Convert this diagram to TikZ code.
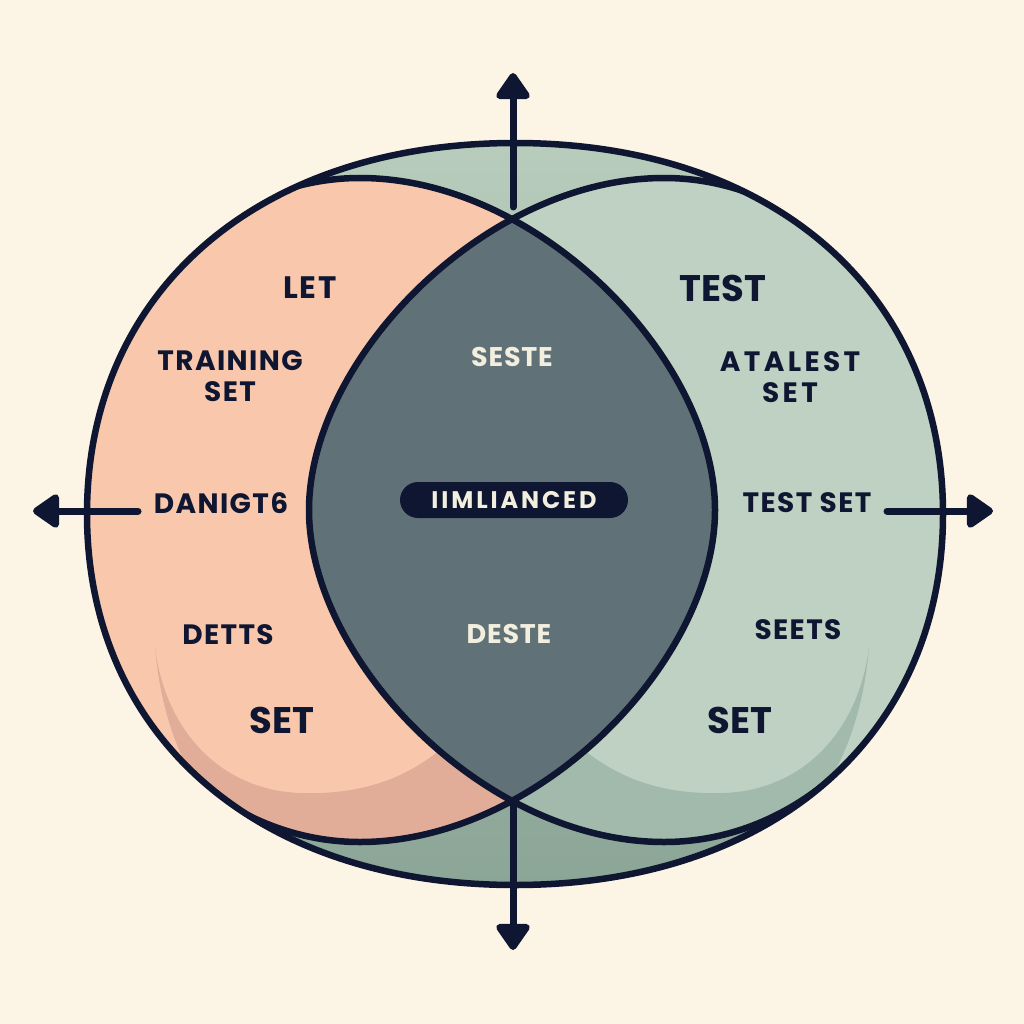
\documentclass[tikz,border=0pt]{standalone}
\usepackage{fontspec}
\setmainfont{Poppins}
\usetikzlibrary{arrows.meta}
\definecolor{paper}{HTML}{FCF4E4}
\definecolor{ink}{HTML}{0E1632}
\definecolor{peach}{HTML}{F9C8AC}
\definecolor{peachshade}{HTML}{E2AD98}
\definecolor{sage}{HTML}{BED1C2}
\definecolor{sageshade}{HTML}{A2BAAB}
\definecolor{ringtop}{HTML}{B8CCBC}
\definecolor{ringbot}{HTML}{8BA597}
\definecolor{slate}{HTML}{607278}
\definecolor{cream}{HTML}{F3EFDF}
% the three outlines, in pixel units
\newcommand\outerset{(87,514) .. controls (87,291.4) and (258.2,143) .. (515,143) .. controls (771.8,143) and (943,291.4) .. (943,514) .. controls (943,736.6) and (771.8,885) .. (515,885) .. controls (258.2,885) and (87,736.6) .. (87,514) -- cycle}
\newcommand\leftset{(715,510) .. controls (715,360) and (540,178) .. (360,178) .. controls (203,178) and (75,327) .. (75,510) .. controls (75,693) and (203,842) .. (360,842) .. controls (540,842) and (715,660) .. (715,510) -- cycle}
\newcommand\rightset{(309,510) .. controls (309,360) and (484,178) .. (664,178) .. controls (821,178) and (949,327) .. (949,510) .. controls (949,693) and (821,842) .. (664,842) .. controls (484,842) and (309,660) .. (309,510) -- cycle}
% shadow crescents at the foot of each set
\newcommand\leftshade{(155,647) .. controls (160,705) and (175,750) .. (200,790) -- (200,950) -- (600,950) -- (600,700) -- (470,720) .. controls (420,780) and (360,795) .. (300,793) .. controls (220,790) and (165,730) .. (155,647) -- cycle}
\newcommand\rightshade{(869,647) .. controls (864,705) and (849,750) .. (824,790) -- (824,950) -- (424,950) -- (424,700) -- (554,720) .. controls (604,780) and (664,795) .. (724,793) .. controls (804,790) and (859,730) .. (869,647) -- cycle}
\begin{document}
\begin{tikzpicture}[x=1pt, y=-1pt, line cap=round, line join=round,
    rim/.style={draw=ink, line width=6.5pt},
    arr/.style={draw=ink, line width=7pt, -{Triangle[length=29pt, width=38pt, round]}},
    lbl/.style={text=ink, font=\bfseries\fontsize{28}{31}\selectfont\addfontfeature{LetterSpace=5}, align=center},
    widelbl/.style={lbl, font=\bfseries\fontsize{28}{31}\selectfont\addfontfeature{LetterSpace=12}},
    biglbl/.style={text=ink, font=\bfseries\fontsize{37}{42}\selectfont},
    lenslbl/.style={text=cream, font=\bfseries\fontsize{27}{30}\selectfont\addfontfeature{LetterSpace=3}},
    pill/.style={fill=ink, text=cream, rounded corners=18pt, minimum width=228pt, minimum height=36pt,
        font=\bfseries\fontsize{24}{26}\selectfont\addfontfeature{LetterSpace=12}}]
    \useasboundingbox (0,0) rectangle (1024,1024);
    \fill[paper] (0,0) rectangle (1024,1024);
    \shade[top color=ringtop, bottom color=ringbot] \outerset;
    \begin{scope}
        \clip \outerset;
        % training side
        \begin{scope}
            \clip \leftset;
            \fill[peach] \leftset;
            \fill[peachshade] \leftshade;
        \end{scope}
        % test side
        \begin{scope}
            \clip \rightset;
            \fill[sage] \rightset;
            \fill[sageshade] \rightshade;
        \end{scope}
        % overlap
        \begin{scope}
            \clip \leftset;
            \fill[slate] \rightset;
        \end{scope}
        \path[rim] \leftset;
        \path[rim] \rightset;
    \end{scope}
    \path[rim] \outerset;

    \coordinate (lenstop) at (513,207);
    \coordinate (toptip) at (513,73);
    \coordinate (lensbot) at (513,805);
    \coordinate (bottip) at (513,950);
    \coordinate (lstart) at (138,511);
    \coordinate (ltip) at (33,511);
    \coordinate (rstart) at (887,511);
    \coordinate (rtip) at (993,511);
    \foreach \from/\to in {lenstop/toptip, lensbot/bottip, lstart/ltip, rstart/rtip}
        \draw[arr] (\from) -- (\to);

    \foreach \name/\where/\txt in {training/{230,376}/TRAINING\\SET, danig/{221,503}/DANIGT6,
            detts/{228,635}/DETTS, testset/{807,503}/TEST SET, seets/{798,630}/SEETS}
        \node[lbl] (\name) at (\where) {\txt};
    \node[lbl, font=\bfseries\fontsize{31}{34}\selectfont\addfontfeature{LetterSpace=5}] (let) at (310,288) {LET};
    \node[widelbl] (atalest) at (790,377) {ATALEST\\SET};
    \node[biglbl] (test) at (723,288) {TEST};
    \node[biglbl] (setl) at (282,720) {SET};
    \node[biglbl] (setr) at (740,720) {SET};
    \node[lenslbl] (seste) at (512,357) {SESTE};
    \node[lenslbl] (deste) at (509,634) {DESTE};
    \node[pill] (imb) at (514,500) {IIMLIANCED};
\end{tikzpicture}
\end{document}
